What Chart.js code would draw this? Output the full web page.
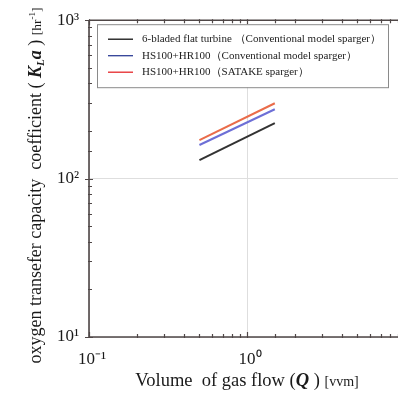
<!DOCTYPE html>
<html>
<head>
<meta charset="utf-8">
<script src="https://cdn.jsdelivr.net/npm/chart.js@4/dist/chart.umd.min.js"></script>
<style>
  html, body { margin: 0; padding: 0; background: #fff; overflow: hidden; }
  #wrap { position: relative; width: 430px; height: 395px; }
</style>
</head>
<body>
<div id="wrap"><canvas id="klaChart"></canvas></div>
<script>
// data
const gasFlow = [0.5, 1.5];
const klaTurbine = [131, 224];
const klaHsConventional = [163, 274];
const klaHsSatake = [175, 299];
const seriesNames = [
  '6-bladed flat turbine （Conventional model sparger）',
  'HS100+HR100（Conventional model sparger）',
  'HS100+HR100（SATAKE sparger）'
];
const lineColors = ['#333333', '#6d6fd6', '#ea6c4a'];
const legendColors = ['#111111', '#2f3f96', '#e5262a'];
const supDigits = { '-': '⁻', '0': '⁰', '1': '¹', '2': '²', '3': '³' };

const serif = "'Liberation Serif', 'Times New Roman', serif";

function isDecade(v) {
  const l = Math.log10(v);
  return Math.abs(l - Math.round(l)) < 1e-6;
}
function decadeLabel(v) {
  if (!isDecade(v)) return '';
  const e = String(Math.round(Math.log10(v)));
  return '10' + e.split('').map(c => supDigits[c]).join('');
}
function toPoints(ys) {
  return gasFlow.map((x, i) => ({ x: x, y: ys[i] }));
}

// rich text: list of runs drawn one after another, centred on cx
function drawRuns(ctx, runs, cx, cy) {
  let total = 0;
  runs.forEach(r => { ctx.font = r.font; r.w = ctx.measureText(r.text).width; total += r.w; });
  let x = cx - total / 2;
  runs.forEach(r => {
    ctx.font = r.font;
    ctx.fillText(r.text, x, cy + (r.dy || 0));
    x += r.w;
  });
}

const framePlugin = {
  id: 'framePlugin',
  afterDatasetsDraw(chart) {
    const ctx = chart.ctx;
    const a = chart.chartArea;
    const xs = chart.scales.x, ys = chart.scales.y;
    ctx.save();
    ctx.strokeStyle = '#4f4747';
    ctx.lineWidth = 1.6;
    ctx.beginPath();
    ctx.moveTo(a.left, a.top); ctx.lineTo(a.right, a.top);
    ctx.moveTo(a.left, a.top); ctx.lineTo(a.left, a.bottom);
    ctx.lineTo(a.right, a.bottom);
    ctx.stroke();
    ctx.lineWidth = 1.2;
    ctx.beginPath();
    ys.ticks.forEach(t => {
      const p = Math.round(ys.getPixelForValue(t.value)) + 0.5;
      const big = isDecade(t.value);
      ctx.moveTo(a.left - (big ? 4 : 1), p);
      ctx.lineTo(a.left + (big ? 4 : 3), p);
    });
    xs.ticks.forEach(t => {
      const p = Math.round(xs.getPixelForValue(t.value)) + 0.5;
      const big = isDecade(t.value);
      ctx.moveTo(p, a.bottom + 1);
      ctx.lineTo(p, a.bottom - (big ? 5 : 3));
      ctx.moveTo(p, a.top - 1);
      ctx.lineTo(p, a.top + (big ? 5 : 3));
    });
    ctx.stroke();
    ctx.restore();
  },
  afterDraw(chart) {
    const ctx = chart.ctx;
    const a = chart.chartArea;
    ctx.save();
    ctx.fillStyle = '#1a1a1a';
    ctx.textBaseline = 'alphabetic';

    // x axis title
    drawRuns(ctx, [
      { text: 'Volume  of gas flow (', font: '18.5px ' + serif },
      { text: 'Q', font: 'italic bold 18.5px ' + serif },
      { text: ' ) ', font: '18.5px ' + serif },
      { text: '[vvm]', font: '14px ' + serif }
    ], (a.left + a.right) / 2, 386);

    // y axis title
    ctx.translate(41, (a.top + a.bottom) / 2 + 7);
    ctx.rotate(-Math.PI / 2);
    drawRuns(ctx, [
      { text: 'oxygen transefer capacity  coefficient ( ', font: '18px ' + serif },
      { text: 'K', font: 'italic bold 18px ' + serif },
      { text: 'L', font: 'italic bold 11px ' + serif, dy: 3 },
      { text: 'a', font: 'italic bold 18px ' + serif },
      { text: ' ) ', font: '18px ' + serif },
      { text: '[hr', font: '13.5px ' + serif },
      { text: '-1', font: '9px ' + serif, dy: -6 },
      { text: ']', font: '13.5px ' + serif }
    ], 0, 0);
    ctx.restore();

    // legend box
    ctx.save();
    const bx = a.left + 8, by = a.top + 4, bw = 291, bh = 63;
    ctx.fillStyle = '#ffffff';
    ctx.fillRect(bx, by, bw, bh);
    ctx.strokeStyle = '#8a8a8a';
    ctx.lineWidth = 1;
    ctx.strokeRect(bx + 0.5, by + 0.5, bw, bh);
    ctx.font = '11px ' + serif;
    ctx.textBaseline = 'middle';
    seriesNames.forEach((name, i) => {
      const y = by + 15 + i * 16.5;
      ctx.strokeStyle = legendColors[i];
      ctx.lineWidth = 1.3;
      ctx.beginPath();
      ctx.moveTo(bx + 11, y); ctx.lineTo(bx + 36, y);
      ctx.stroke();
      ctx.fillStyle = '#222';
      ctx.fillText(name, bx + 45, y);
    });
    ctx.restore();
  }
};

new Chart(document.getElementById('klaChart'), {
  type: 'line',
  data: {
    datasets: [
      { label: seriesNames[0], data: toPoints(klaTurbine), borderColor: lineColors[0] },
      { label: seriesNames[1], data: toPoints(klaHsConventional), borderColor: lineColors[1] },
      { label: seriesNames[2], data: toPoints(klaHsSatake), borderColor: lineColors[2] }
    ]
  },
  options: {
    responsive: true,
    maintainAspectRatio: false,
    animation: false,
    layout: { padding: { top: 20, right: 25, left: 0, bottom: 0 } },
    elements: {
      point: { radius: 0 },
      line: { borderWidth: 2, tension: 0 }
    },
    plugins: {
      legend: { display: false },
      tooltip: { enabled: false }
    },
    scales: {
      x: {
        type: 'logarithmic',
        min: 0.1,
        max: 10,
        border: { display: false },
        grid: {
          drawTicks: false,
          color: c => isDecade(c.tick.value) ? '#dedede' : 'rgba(0,0,0,0)'
        },
        ticks: {
          autoSkip: false,
          maxRotation: 0,
          padding: 12,
          labelOffset: 3,
          color: '#1a1a1a',
          font: { family: serif, size: 17 },
          callback: v => decadeLabel(v)
        },
        afterFit: s => { s.height = 58; }
      },
      y: {
        type: 'logarithmic',
        min: 10,
        max: 1000,
        border: { display: false },
        grid: {
          drawTicks: false,
          color: c => isDecade(c.tick.value) ? '#dedede' : 'rgba(0,0,0,0)'
        },
        ticks: {
          autoSkip: false,
          padding: 10,
          color: '#1a1a1a',
          font: { family: serif, size: 17 },
          callback: v => decadeLabel(v)
        },
        afterFit: s => { s.width = 89; }
      }
    }
  },
  plugins: [framePlugin]
});
</script>
</body>
</html>
